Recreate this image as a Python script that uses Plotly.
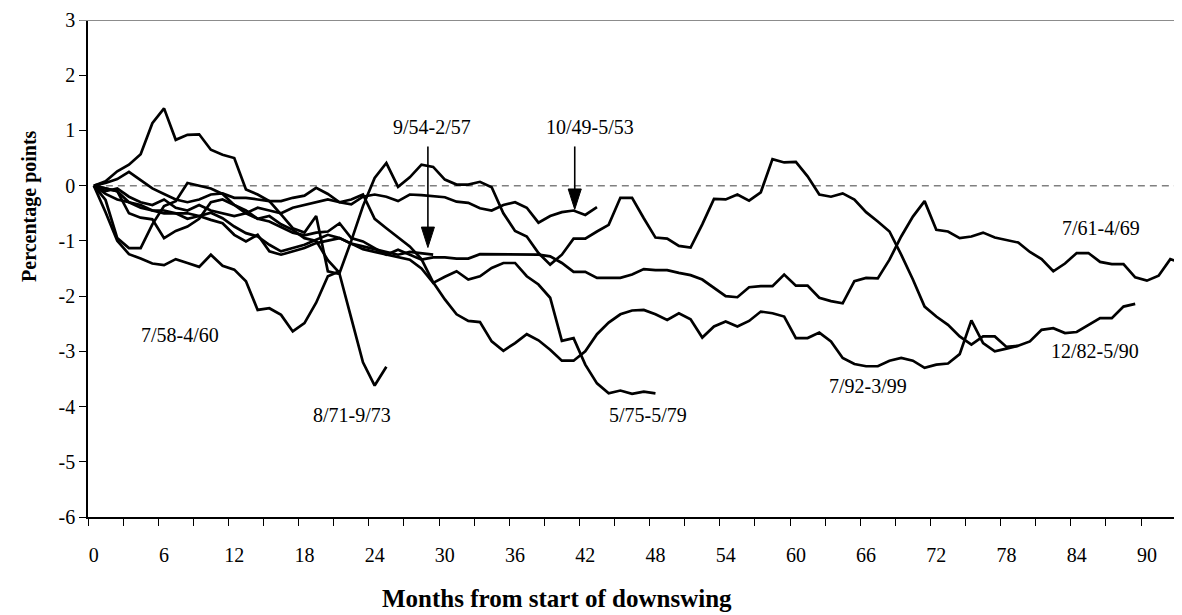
import plotly.graph_objects as go

# ---- data (percentage points vs months from start of downswing) ----
s_1049_0553 = [0, 0.05, 0.12, 0.25, 0.1, -0.05, -0.15, -0.25, -0.3, -0.25,
               -0.16, -0.14, -0.22, -0.22, -0.25, -0.28, -0.28, -0.22, -0.18, -0.04,
               -0.15, -0.3, -0.34, -0.2, -0.16, -0.2, -0.28, -0.16, -0.17, -0.19,
               -0.21, -0.29, -0.31, -0.41, -0.45, -0.35, -0.3, -0.4, -0.67, -0.55,
               -0.48, -0.45, -0.53, -0.39]
s_0954_0257 = [0, -0.05, -0.1, -0.3, -0.35, -0.45, -0.5, -0.5, -0.5, -0.55,
               -0.49, -0.59, -0.74, -0.86, -0.92, -1.07, -1.19, -1.13, -1.07, -0.98,
               -0.89, -0.95, -1.05, -1.1, -1.15, -1.2, -1.25, -1.2, -1.22, -1.25]
s_0758_0460 = [0, -0.48, -1.0, -1.24, -1.32, -1.41, -1.44, -1.33, -1.4, -1.47,
               -1.25, -1.45, -1.52, -1.73, -2.25, -2.22, -2.34, -2.64, -2.49, -2.12,
               -1.64, -1.55]
s_0761_0469 = [0, -0.05, -0.1, -0.5, -0.58, -0.61, -0.95, -0.82, -0.74, -0.6,
               -0.3, -0.25, -0.35, -0.5, -0.6, -0.65, -0.75, -0.85, -0.9, -0.85,
               -0.83, -0.68, -0.95, -1.01, -1.13, -1.25, -1.16, -1.25, -1.34, -1.3,
               -1.3, -1.32, -1.32, -1.24, -1.24, -1.24, -1.24, -1.24, -1.25, -1.28,
               -1.4, -1.56, -1.56, -1.67, -1.67, -1.67, -1.61, -1.51, -1.53, -1.53,
               -1.58, -1.62, -1.7, -1.85, -2.0, -2.02, -1.84, -1.82, -1.82, -1.61,
               -1.81, -1.81, -2.03, -2.09, -2.13, -1.73, -1.67, -1.68, -1.34, -0.92,
               -0.56, -0.28, -0.8, -0.83, -0.95, -0.92, -0.85, -0.94, -0.99, -1.03,
               -1.2, -1.33, -1.55, -1.41, -1.22, -1.22, -1.38, -1.42, -1.42, -1.66,
               -1.72, -1.63, -1.33, -1.4]
s_0871_0973 = [0, 0.08, 0.26, 0.38, 0.57, 1.13, 1.4, 0.83, 0.92, 0.93,
               0.65, 0.56, 0.5, -0.07, -0.16, -0.28, -0.52, -0.77, -0.85, -0.55,
               -1.55, -1.6, -2.4, -3.2, -3.62, -3.28]
s_0575_0579 = [0, -0.15, -0.25, -0.3, -0.4, -0.45, -0.45, -0.5, -0.6, -0.55,
               -0.62, -0.68, -0.89, -1.01, -0.89, -1.19, -1.25, -1.19, -1.13, -1.04,
               -1.0, -0.95, -1.05, -1.15, -1.2, -1.25, -1.3, -1.34, -1.5, -1.76,
               -1.65, -1.55, -1.7, -1.64, -1.49, -1.4, -1.4, -1.64, -1.79, -2.03,
               -2.81, -2.76, -3.24, -3.58, -3.76, -3.71, -3.77, -3.73, -3.76]
s_1282_0590 = [0, -0.1, -0.05, -0.2, -0.3, -0.35, -0.25, -0.4, -0.45, -0.35,
               -0.45, -0.5, -0.55, -0.5, -0.4, -0.45, -0.5, -0.4, -0.35, -0.3,
               -0.25, -0.3, -0.25, -0.16, -0.6, -0.77, -0.93, -1.1, -1.33, -1.75,
               -2.06, -2.33, -2.45, -2.47, -2.82, -2.99, -2.85, -2.69, -2.8, -2.97,
               -3.17, -3.17, -3.0, -2.69, -2.48, -2.33, -2.26, -2.25, -2.33, -2.43,
               -2.31, -2.42, -2.75, -2.55, -2.46, -2.55, -2.45, -2.28, -2.31, -2.37,
               -2.76, -2.76, -2.66, -2.82, -3.12, -3.23, -3.27, -3.27, -3.17, -3.12,
               -3.17, -3.3, -3.24, -3.22, -3.05, -2.44, -2.85, -3.0, -2.95, -2.9,
               -2.82, -2.61, -2.58, -2.67, -2.65, -2.52, -2.4, -2.4, -2.19, -2.14]
s_0792_0399 = [0, -0.26, -0.95, -1.13, -1.13, -0.7, -0.37, -0.28, 0.05, 0.0,
               -0.05, -0.15, -0.35, -0.45, -0.6, -0.55, -0.7, -0.8, -0.95, -1.0,
               -1.35, -1.58, -1.0, -0.37, 0.14, 0.41, -0.02, 0.15, 0.38, 0.34,
               0.11, 0.02, 0.02, 0.07, -0.03, -0.5, -0.82, -0.92, -1.22, -1.43,
               -1.25, -0.96, -0.96, -0.83, -0.71, -0.22, -0.22, -0.59, -0.94, -0.96,
               -1.09, -1.12, -0.7, -0.24, -0.25, -0.16, -0.27, -0.12, 0.48, 0.42,
               0.43, 0.17, -0.16, -0.2, -0.14, -0.25, -0.48, -0.65, -0.83, -1.25,
               -1.7, -2.19, -2.37, -2.52, -2.73, -2.88, -2.73, -2.73, -2.92, -2.9]

series = {
    "10/49-5/53": s_1049_0553,
    "9/54-2/57": s_0954_0257,
    "7/58-4/60": s_0758_0460,
    "7/61-4/69": s_0761_0469,
    "8/71-9/73": s_0871_0973,
    "5/75-5/79": s_0575_0579,
    "12/82-5/90": s_1282_0590,
    "7/92-3/99": s_0792_0399,
}

# label positions (months, value)
label_names = ["7/58-4/60", "8/71-9/73", "5/75-5/79", "7/92-3/99", "7/61-4/69", "12/82-5/90"]
label_x = [7.4, 22.1, 47.4, 66.2, 86.1, 85.6]
label_y = [-2.71, -4.16, -4.16, -3.62, -0.76, -3.0]

arrow_names = ["9/54-2/57", "10/49-5/53"]
arrow_x = [28.55, 41.1]
arrow_tip_y = [-1.12, -0.43]
arrow_tail_y = [0.71, 0.71]
arrow_text_x = [28.9, 42.4]
arrow_text_y = [1.06, 1.06]
HEAD_LEN = 0.37   # arrowhead length (value units)
HEAD_HALF = 0.56  # arrowhead half width (months)

x_ticks = list(range(0, 91, 6))
y_ticks = list(range(-6, 4))

SERIF = "Liberation Serif, Times New Roman, serif"

fig = go.Figure()
for name, vals in series.items():
    fig.add_trace(go.Scatter(x=list(range(len(vals))), y=vals, mode="lines", name=name,
                             line=dict(color="black", width=2.7), hoverinfo="skip"))

# zero dashed reference line
fig.add_shape(type="line", xref="x", yref="y", x0=0, x1=93, y0=0, y1=0,
              line=dict(color="#808080", width=1.5, dash="7px,5px"), layer="below")
# gray top line at y=3
fig.add_shape(type="line", xref="paper", yref="y", x0=-0.008, x1=1, y0=3, y1=3,
              line=dict(color="#8c8c8c", width=2))

for n, x, y in zip(label_names, label_x, label_y):
    fig.add_annotation(x=x, y=y, xref="x", yref="y", text=n, showarrow=False,
                       font=dict(family=SERIF, size=20, color="black"))

for n, x, ty, tl, tx, tt in zip(arrow_names, arrow_x, arrow_tip_y, arrow_tail_y,
                                arrow_text_x, arrow_text_y):
    fig.add_annotation(x=tx, y=tt, xref="x", yref="y", text=n, showarrow=False,
                       font=dict(family=SERIF, size=20, color="black"))
    # shaft
    fig.add_shape(type="line", xref="x", yref="y", x0=x, x1=x, y0=tl, y1=ty + HEAD_LEN * 0.5,
                  line=dict(color="black", width=1.6))
    # head (narrow filled triangle)
    fig.add_shape(type="path", xref="x", yref="y",
                  path=f"M {x},{ty} L {x - HEAD_HALF},{ty + HEAD_LEN} L {x + HEAD_HALF},{ty + HEAD_LEN} Z",
                  fillcolor="black", line=dict(color="black", width=1))

fig.add_annotation(x=-0.053, y=0.624, xref="paper", yref="paper", text="<b>Percentage points</b>",
                   textangle=-90, showarrow=False, xanchor="center", yanchor="middle",
                   font=dict(family=SERIF, size=20, color="black"))
fig.add_annotation(x=0.4287, y=-0.163, xref="paper", yref="paper",
                   text="<b>Months from start of downswing</b>", showarrow=False,
                   xanchor="center", yanchor="middle",
                   font=dict(family=SERIF, size=25, color="black"))

# page body adds an 8px offset; margins compensate so the plot sits where the reference has it
fig.update_layout(
    width=1182, height=615,
    margin=dict(l=80, r=8, t=12, b=106, pad=0),
    paper_bgcolor="white", plot_bgcolor="white",
    showlegend=False,
    font=dict(family=SERIF, size=20, color="black"),
    xaxis=dict(range=[-0.5, 93.0], tickvals=x_ticks, ticktext=[str(v) for v in x_ticks],
               ticks="outside", ticklen=19, tickcolor="rgba(0,0,0,0)", automargin=False,
               showline=True, linecolor="black", linewidth=1.5, showgrid=False, zeroline=False,
               minor=dict(tickvals=[-0.5 + 3 * k for k in range(32)], ticks="outside",
                          ticklen=7, tickwidth=1, tickcolor="black", showgrid=False),
               tickfont=dict(family=SERIF, size=20)),
    yaxis=dict(range=[-6, 3], tickvals=y_ticks, ticktext=[str(v) for v in y_ticks],
               ticks="outside", ticklen=7, tickwidth=1, automargin=False,
               tickcolor="black", showline=True, linecolor="black", linewidth=1.5,
               showgrid=False, zeroline=False, tickfont=dict(family=SERIF, size=20)),
)

fig.write_html("out.html")
